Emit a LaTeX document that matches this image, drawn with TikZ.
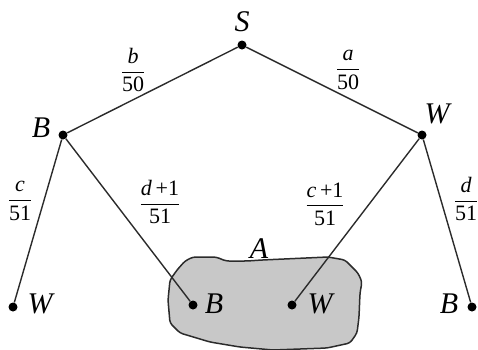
\documentclass[tikz,border=0pt]{standalone}
\usepackage{amsmath}
\usepackage{fontspec}
\setmainfont{Liberation Serif}
\usetikzlibrary{positioning}
\definecolor{ink}{HTML}{2B2B2B}
\definecolor{blobfill}{HTML}{C8C8C8}
\newcommand{\fr}[2]{$\dfrac{\mbox{#1}}{\mbox{#2}}$}

\begin{document}
\begin{tikzpicture}[x=1pt, y=-1pt,
   pt/.style={circle, fill=black, inner sep=0pt, minimum size=9pt},
   lbl/.style={inner sep=0pt, font=\fontsize{30}{34}\selectfont\itshape},
   prob/.style={inner sep=0pt, font=\fontsize{22}{25}\selectfont},
   edge/.style={draw=ink, line width=1.4pt}]
 \useasboundingbox (0,0) rectangle (478,349);
 % the event A
 \draw[draw=ink, line width=1.5pt, fill=blobfill, rounded corners=3pt]
   (193,257) -- (216,257) -- (226,261) -- (247,261) -- (262,260)
   -- (328,257) -- (345,260) -- (358,273) -- (362,282) -- (360,293)
   -- (359,317) -- (357,333) -- (350,343) -- (327,348) -- (273,350)
   -- (240,347) -- (210,342) -- (180,333) -- (170,323) -- (168,300)
   -- (170,280) -- (177,270) -- (185,261) -- cycle;
 % tree points
 \node[pt] (s) at (242,45) {};
 \node[pt] (b) at (63,135) {};
 \node[pt] (w) at (422,135) {};
 \node[pt] (bw) at (13,307) {};
 \node[pt] (bb) at (193,305) {};
 \node[pt] (ww) at (292,305) {};
 \node[pt] (wb) at (472,307) {};
 \draw[edge] (s) -- (b);  \draw[edge] (s) -- (w);
 \draw[edge] (b) -- (bw); \draw[edge] (b) -- (bb);
 \draw[edge] (w) -- (ww); \draw[edge] (w) -- (wb);
 % letters
 \node[lbl] (sl) at (242,22) {S};
 \node[lbl] (bl) at (41,128) {B};
 \node[lbl] (wl) at (437,114) {W};
 \node[lbl] (bwl) at (40,304) {W};
 \node[lbl] (bbl) at (214,304) {B};
 \node[lbl] (wwl) at (320,304) {W};
 \node[lbl] (wbl) at (449,304) {B};
 \node[lbl] (al) at (259,249) {A};
 % probabilities
 \node[prob] (p1) at (133,70) {\fr{\itshape b}{50}};
 \node[prob] (p2) at (348,70) {\fr{\itshape a}{50}};
 \node[prob] (p3) at (20,201) {\fr{\itshape c}{51}};
 \node[prob] (p4) at (160,202) {\fr{{\itshape d}\,+1}{51}};
 \node[prob] (p5) at (325,204) {\fr{{\itshape c}\,+1}{51}};
 \node[prob] (p6) at (466,199) {\fr{\itshape d}{51}};
\end{tikzpicture}
\end{document}
